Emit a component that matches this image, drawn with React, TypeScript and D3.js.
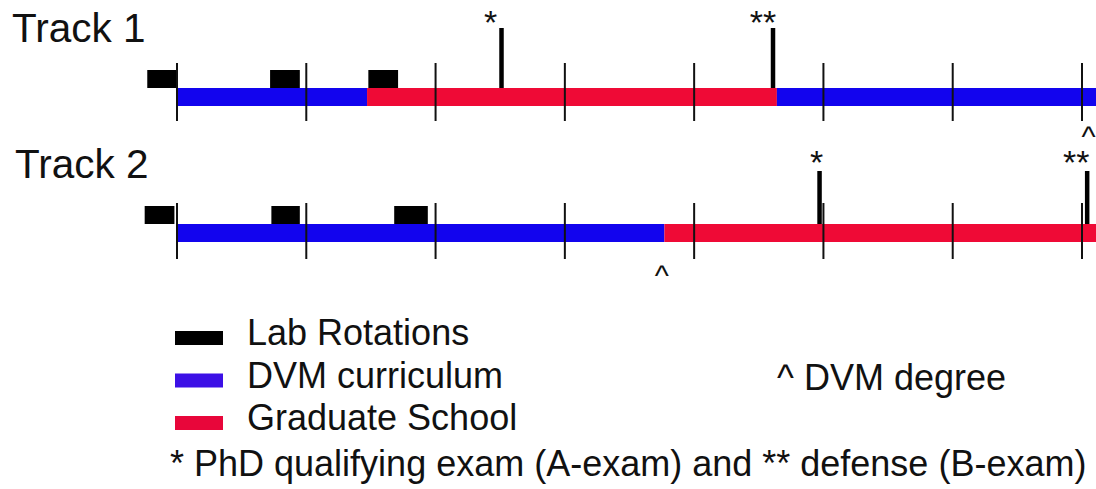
import React from "react";
import * as d3 from "d3";

// ---- data (time in years from program start) ----
const tickYears = [0, 1, 2, 3, 4, 5, 6, 7];

const track1Rotations: [number, number][] = [[-0.23, 0], [0.72, 0.95], [1.48, 1.71]];
const track1Segments: { kind: string; start: number; end: number }[] = [
  { kind: "dvm", start: 0, end: 1.47 },
  { kind: "grad", start: 1.47, end: 4.64 },
  { kind: "dvm", start: 4.64, end: 7.2 },
];
const track1Exams: { label: string; t: number; dx: number }[] = [
  { label: "*", t: 2.51, dx: -11 },
  { label: "**", t: 4.61, dx: -10 },
];
const track1Degree = 7.05;

const track2Rotations: [number, number][] = [[-0.25, -0.02], [0.73, 0.95], [1.68, 1.94]];
const track2Segments: { kind: string; start: number; end: number }[] = [
  { kind: "dvm", start: 0, end: 3.77 },
  { kind: "grad", start: 3.77, end: 7.2 },
];
const track2Exams: { label: string; t: number; dx: number }[] = [
  { label: "*", t: 4.97, dx: -3 },
  { label: "**", t: 7.04, dx: -11 },
];
const track2Degree = 3.75;

const legendItems = [
  { label: "Lab Rotations", color: "#000000" },
  { label: "DVM curriculum", color: "#3c10e6" },
  { label: "Graduate School", color: "#e8063a" },
];

const W = 1096;
const H = 489;
const FONT = "'Liberation Sans', Arial, Helvetica, sans-serif";
const segColor: Record<string, string> = { dvm: "#1204ee", grad: "#ef0a36" };

const x = d3.scaleLinear().domain([0, 7]).range([177, 1082]);

type TrackProps = {
  title: string;
  titleX: number;
  titleY: number;
  barTop: number;
  tickTop: number;
  tickBottom: number;
  examTop: number;
  starY: number;
  caretY: number;
  rotations: [number, number][];
  segments: { kind: string; start: number; end: number }[];
  exams: { label: string; t: number; dx: number }[];
  degree: number;
};

const BAR_H = 18;
const BOX_H = 18;

function Track(p: TrackProps) {
  return (
    <g>
      <text x={p.titleX} y={p.titleY} fontSize={40.5} fontFamily={FONT} fill="#111">
        {p.title}
      </text>
      {p.rotations.map(([a, b], i) => (
        <rect key={"r" + i} x={x(a)} y={p.barTop - BOX_H} width={x(b) - x(a)} height={BOX_H} fill="#000" />
      ))}
      {p.segments.map((s, i) => (
        <rect
          key={"s" + i}
          x={x(s.start)}
          y={p.barTop}
          width={x(s.end) - x(s.start)}
          height={BAR_H}
          fill={segColor[s.kind]}
        />
      ))}
      {tickYears.map((t) => (
        <line key={"t" + t} x1={x(t)} x2={x(t)} y1={p.tickTop} y2={p.tickBottom} stroke="#111" strokeWidth={2} />
      ))}
      {p.exams.map((e, i) => (
        <g key={"e" + i}>
          <line x1={x(e.t)} x2={x(e.t)} y1={p.examTop} y2={p.barTop} stroke="#000" strokeWidth={4.5} />
          <text x={x(e.t) + e.dx} y={p.starY} fontSize={34} fontFamily={FONT} textAnchor="middle" fill="#111">
            {e.label}
          </text>
        </g>
      ))}
      <text x={x(p.degree)} y={p.caretY} fontSize={30} fontFamily={FONT} textAnchor="middle" fill="#111">
        ^
      </text>
    </g>
  );
}

export default function App() {
  return (
    <svg
      width={W}
      height={H}
      viewBox={`0 0 ${W} ${H}`}
      style={{ position: "absolute", left: 0, top: 0, background: "#fff" }}
    >
      <rect x={0} y={0} width={W} height={H} fill="#fff" />
      <Track
        title="Track 1"
        titleX={12}
        titleY={42}
        barTop={88}
        tickTop={63}
        tickBottom={121}
        examTop={28}
        starY={34}
        caretY={147}
        rotations={track1Rotations}
        segments={track1Segments}
        exams={track1Exams}
        degree={track1Degree}
      />
      <Track
        title="Track 2"
        titleX={15}
        titleY={178}
        barTop={224}
        tickTop={203}
        tickBottom={259}
        examTop={171}
        starY={174}
        caretY={286}
        rotations={track2Rotations}
        segments={track2Segments}
        exams={track2Exams}
        degree={track2Degree}
      />
      {legendItems.map((it, i) => (
        <g key={it.label}>
          <rect x={175} y={331 + i * 42.5} width={48} height={14} fill={it.color} />
          <text x={247} y={345 + i * 42.5} fontSize={36} fontFamily={FONT} fill="#111">
            {it.label}
          </text>
        </g>
      ))}
      <text x={777} y={390} fontSize={36} fontFamily={FONT} fill="#111">
        ^ DVM degree
      </text>
      <text x={170} y={476} fontSize={36} fontFamily={FONT} fill="#111">
        * PhD qualifying exam (A-exam) and ** defense (B-exam)
      </text>
    </svg>
  );
}
